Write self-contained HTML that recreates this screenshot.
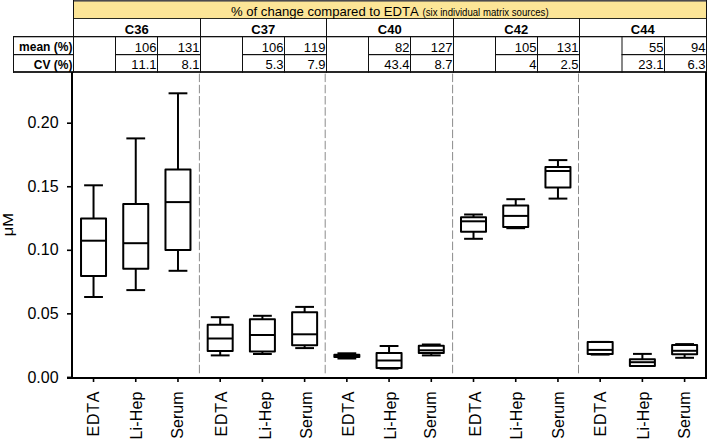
<!DOCTYPE html>
<html><head><meta charset="utf-8"><style>
html,body{margin:0;padding:0;background:#fff;}
body{width:708px;height:440px;overflow:hidden;}
svg{display:block;font-family:"Liberation Sans",sans-serif;fill:#000;font-kerning:none;}
</style></head><body>
<svg width="708" height="440" viewBox="0 0 708 440">
<rect x="73" y="0" width="634" height="18.5" fill="#fce597"/>
<rect x="73" y="0" width="634" height="1" fill="#4a494e"/>
<rect x="73" y="1" width="634" height="0.6" fill="#4a494e"/>
<rect x="73" y="18" width="634" height="1" fill="#2a2a20"/>
<rect x="13" y="36" width="694" height="1.3" fill="#111"/>
<rect x="13" y="71.1" width="694" height="1.8" fill="#111"/>
<rect x="13" y="36" width="1" height="36.8" fill="#111"/>
<rect x="13" y="54" width="60" height="1.2" fill="#111"/>
<rect x="73" y="18" width="1" height="54.8" fill="#111"/>
<rect x="115" y="36" width="1" height="36.8" fill="#111"/>
<rect x="157" y="36" width="1" height="36.8" fill="#111"/>
<rect x="115" y="54" width="85" height="1.2" fill="#111"/>
<rect x="200" y="18" width="1" height="54.8" fill="#111"/>
<rect x="242" y="36" width="1" height="36.8" fill="#111"/>
<rect x="284" y="36" width="1" height="36.8" fill="#111"/>
<rect x="242" y="54" width="84" height="1.2" fill="#111"/>
<rect x="326" y="18" width="1" height="54.8" fill="#111"/>
<rect x="368" y="36" width="1" height="36.8" fill="#111"/>
<rect x="410" y="36" width="1" height="36.8" fill="#111"/>
<rect x="368" y="54" width="85" height="1.2" fill="#111"/>
<rect x="453" y="18" width="1" height="54.8" fill="#111"/>
<rect x="495" y="36" width="1" height="36.8" fill="#111"/>
<rect x="537" y="36" width="1" height="36.8" fill="#111"/>
<rect x="495" y="54" width="84" height="1.2" fill="#111"/>
<rect x="579" y="18" width="1" height="54.8" fill="#111"/>
<rect x="621.5" y="36" width="1" height="36.8" fill="#111"/>
<rect x="664" y="36" width="1" height="36.8" fill="#111"/>
<rect x="621.5" y="54" width="84.5" height="1.2" fill="#111"/>
<rect x="706" y="0" width="1" height="72.8" fill="#111"/>
<rect x="73" y="0" width="1" height="18" fill="#111"/>
<text x="231.0" y="16" font-size="13.1">% of change compared to EDTA</text>
<text x="422.6" y="16" font-size="10" textLength="126" lengthAdjust="spacingAndGlyphs">(six individual matrix sources)</text>
<text x="136.7" y="33.7" font-size="13" text-anchor="middle" font-weight="bold" >C36</text>
<text x="156.5" y="51.5" font-size="13" text-anchor="end" font-weight="normal" >106</text>
<text x="199.5" y="51.5" font-size="13" text-anchor="end" font-weight="normal" >131</text>
<text x="156.5" y="69.3" font-size="13" text-anchor="end" font-weight="normal" >11.1</text>
<text x="199.5" y="69.3" font-size="13" text-anchor="end" font-weight="normal" >8.1</text>
<text x="263.2" y="33.7" font-size="13" text-anchor="middle" font-weight="bold" >C37</text>
<text x="283.5" y="51.5" font-size="13" text-anchor="end" font-weight="normal" >106</text>
<text x="325.5" y="51.5" font-size="13" text-anchor="end" font-weight="normal" >119</text>
<text x="283.5" y="69.3" font-size="13" text-anchor="end" font-weight="normal" >5.3</text>
<text x="325.5" y="69.3" font-size="13" text-anchor="end" font-weight="normal" >7.9</text>
<text x="389.7" y="33.7" font-size="13" text-anchor="middle" font-weight="bold" >C40</text>
<text x="409.5" y="51.5" font-size="13" text-anchor="end" font-weight="normal" >82</text>
<text x="452.5" y="51.5" font-size="13" text-anchor="end" font-weight="normal" >127</text>
<text x="409.5" y="69.3" font-size="13" text-anchor="end" font-weight="normal" >43.4</text>
<text x="452.5" y="69.3" font-size="13" text-anchor="end" font-weight="normal" >8.7</text>
<text x="516.2" y="33.7" font-size="13" text-anchor="middle" font-weight="bold" >C42</text>
<text x="536.5" y="51.5" font-size="13" text-anchor="end" font-weight="normal" >105</text>
<text x="578.5" y="51.5" font-size="13" text-anchor="end" font-weight="normal" >131</text>
<text x="536.5" y="69.3" font-size="13" text-anchor="end" font-weight="normal" >4</text>
<text x="578.5" y="69.3" font-size="13" text-anchor="end" font-weight="normal" >2.5</text>
<text x="642.7" y="33.7" font-size="13" text-anchor="middle" font-weight="bold" >C44</text>
<text x="663.5" y="51.5" font-size="13" text-anchor="end" font-weight="normal" >55</text>
<text x="705.5" y="51.5" font-size="13" text-anchor="end" font-weight="normal" >94</text>
<text x="663.5" y="69.3" font-size="13" text-anchor="end" font-weight="normal" >23.1</text>
<text x="705.5" y="69.3" font-size="13" text-anchor="end" font-weight="normal" >6.3</text>
<text x="72.4" y="51" font-size="12" text-anchor="end" font-weight="bold" >mean (%)</text>
<text x="72.4" y="68.6" font-size="12" text-anchor="end" font-weight="bold" >CV (%)</text>
<line x1="199.4" y1="73.6" x2="199.4" y2="374.5" stroke="#8c8c8c" stroke-width="1" stroke-dasharray="8.5 2.7"/>
<line x1="325.2" y1="73.6" x2="325.2" y2="374.5" stroke="#8c8c8c" stroke-width="1" stroke-dasharray="8.5 2.7"/>
<line x1="452.6" y1="73.6" x2="452.6" y2="374.5" stroke="#8c8c8c" stroke-width="1" stroke-dasharray="8.5 2.7"/>
<line x1="578.5" y1="73.6" x2="578.5" y2="374.5" stroke="#8c8c8c" stroke-width="1" stroke-dasharray="8.5 2.7"/>
<rect x="71" y="72" width="2" height="307" fill="#000"/>
<rect x="67" y="377" width="640" height="2" fill="#000"/>
<rect x="705" y="72" width="2" height="307" fill="#000"/>
<rect x="67" y="376.60" width="5" height="1.6" fill="#000"/>
<text x="58.6" y="382.5" font-size="16" text-anchor="end" font-weight="normal" >0.00</text>
<rect x="67" y="313.05" width="5" height="1.6" fill="#000"/>
<text x="58.6" y="318.95" font-size="16" text-anchor="end" font-weight="normal" >0.05</text>
<rect x="67" y="249.50" width="5" height="1.6" fill="#000"/>
<text x="58.6" y="255.39999999999995" font-size="16" text-anchor="end" font-weight="normal" >0.10</text>
<rect x="67" y="185.95" width="5" height="1.6" fill="#000"/>
<text x="58.6" y="191.84999999999997" font-size="16" text-anchor="end" font-weight="normal" >0.15</text>
<rect x="67" y="122.40" width="5" height="1.6" fill="#000"/>
<text x="58.6" y="128.29999999999995" font-size="16" text-anchor="end" font-weight="normal" >0.20</text>
<rect x="92.73" y="378" width="1.6" height="4" fill="#000"/>
<text transform="translate(98.83,391.5) rotate(-90)" font-size="16" text-anchor="end" textLength="45" lengthAdjust="spacing">EDTA</text>
<rect x="134.95" y="378" width="1.6" height="4" fill="#000"/>
<text transform="translate(141.85,391.5) rotate(-90)" font-size="16" text-anchor="end" textLength="48.1" lengthAdjust="spacing">Li-Hep</text>
<rect x="177.17" y="378" width="1.6" height="4" fill="#000"/>
<text transform="translate(182.97,391.5) rotate(-90)" font-size="16" text-anchor="end">Serum</text>
<rect x="219.39" y="378" width="1.6" height="4" fill="#000"/>
<text transform="translate(227.19,391.5) rotate(-90)" font-size="16" text-anchor="end" textLength="45" lengthAdjust="spacing">EDTA</text>
<rect x="261.61" y="378" width="1.6" height="4" fill="#000"/>
<text transform="translate(270.81,391.5) rotate(-90)" font-size="16" text-anchor="end" textLength="48.1" lengthAdjust="spacing">Li-Hep</text>
<rect x="303.83" y="378" width="1.6" height="4" fill="#000"/>
<text transform="translate(311.93,391.5) rotate(-90)" font-size="16" text-anchor="end">Serum</text>
<rect x="346.05" y="378" width="1.6" height="4" fill="#000"/>
<text transform="translate(354.35,391.5) rotate(-90)" font-size="16" text-anchor="end" textLength="45" lengthAdjust="spacing">EDTA</text>
<rect x="388.27" y="378" width="1.6" height="4" fill="#000"/>
<text transform="translate(396.17,391.5) rotate(-90)" font-size="16" text-anchor="end" textLength="48.1" lengthAdjust="spacing">Li-Hep</text>
<rect x="430.49" y="378" width="1.6" height="4" fill="#000"/>
<text transform="translate(436.49,391.5) rotate(-90)" font-size="16" text-anchor="end">Serum</text>
<rect x="472.71" y="378" width="1.6" height="4" fill="#000"/>
<text transform="translate(480.81,391.5) rotate(-90)" font-size="16" text-anchor="end" textLength="45" lengthAdjust="spacing">EDTA</text>
<rect x="514.93" y="378" width="1.6" height="4" fill="#000"/>
<text transform="translate(521.53,391.5) rotate(-90)" font-size="16" text-anchor="end" textLength="48.1" lengthAdjust="spacing">Li-Hep</text>
<rect x="557.15" y="378" width="1.6" height="4" fill="#000"/>
<text transform="translate(563.75,391.5) rotate(-90)" font-size="16" text-anchor="end">Serum</text>
<rect x="599.37" y="378" width="1.6" height="4" fill="#000"/>
<text transform="translate(605.97,391.5) rotate(-90)" font-size="16" text-anchor="end" textLength="45" lengthAdjust="spacing">EDTA</text>
<rect x="641.59" y="378" width="1.6" height="4" fill="#000"/>
<text transform="translate(648.59,391.5) rotate(-90)" font-size="16" text-anchor="end" textLength="48.1" lengthAdjust="spacing">Li-Hep</text>
<rect x="683.81" y="378" width="1.6" height="4" fill="#000"/>
<text transform="translate(690.41,391.5) rotate(-90)" font-size="16" text-anchor="end">Serum</text>
<text transform="translate(13.0,224.6) rotate(-90)" font-size="15.4" text-anchor="middle" textLength="23.4" lengthAdjust="spacingAndGlyphs">&#956;M</text>
<line x1="93.53" y1="185.30" x2="93.53" y2="218.40" stroke="#000" stroke-width="2.0" fill="none" stroke-linejoin="round"/>
<line x1="93.53" y1="276.00" x2="93.53" y2="297.00" stroke="#000" stroke-width="2.0" fill="none" stroke-linejoin="round"/>
<line x1="84.13" y1="185.30" x2="102.93" y2="185.30" stroke="#000" stroke-width="2.0" fill="none" stroke-linejoin="round"/>
<line x1="84.13" y1="297.00" x2="102.93" y2="297.00" stroke="#000" stroke-width="2.0" fill="none" stroke-linejoin="round"/>
<rect x="81.03" y="218.40" width="25.00" height="57.60" stroke="#000" stroke-width="2.0" fill="none" stroke-linejoin="round"/>
<line x1="81.03" y1="240.70" x2="106.03" y2="240.70" stroke="#000" stroke-width="2.0" fill="none" stroke-linejoin="round"/>
<line x1="135.75" y1="138.40" x2="135.75" y2="204.10" stroke="#000" stroke-width="2.0" fill="none" stroke-linejoin="round"/>
<line x1="135.75" y1="268.70" x2="135.75" y2="290.10" stroke="#000" stroke-width="2.0" fill="none" stroke-linejoin="round"/>
<line x1="126.35" y1="138.40" x2="145.15" y2="138.40" stroke="#000" stroke-width="2.0" fill="none" stroke-linejoin="round"/>
<line x1="126.35" y1="290.10" x2="145.15" y2="290.10" stroke="#000" stroke-width="2.0" fill="none" stroke-linejoin="round"/>
<rect x="123.25" y="204.10" width="25.00" height="64.60" stroke="#000" stroke-width="2.0" fill="none" stroke-linejoin="round"/>
<line x1="123.25" y1="243.20" x2="148.25" y2="243.20" stroke="#000" stroke-width="2.0" fill="none" stroke-linejoin="round"/>
<line x1="177.97" y1="93.30" x2="177.97" y2="169.40" stroke="#000" stroke-width="2.0" fill="none" stroke-linejoin="round"/>
<line x1="177.97" y1="250.10" x2="177.97" y2="270.80" stroke="#000" stroke-width="2.0" fill="none" stroke-linejoin="round"/>
<line x1="168.57" y1="93.30" x2="187.37" y2="93.30" stroke="#000" stroke-width="2.0" fill="none" stroke-linejoin="round"/>
<line x1="168.57" y1="270.80" x2="187.37" y2="270.80" stroke="#000" stroke-width="2.0" fill="none" stroke-linejoin="round"/>
<rect x="165.47" y="169.40" width="25.00" height="80.70" stroke="#000" stroke-width="2.0" fill="none" stroke-linejoin="round"/>
<line x1="165.47" y1="202.10" x2="190.47" y2="202.10" stroke="#000" stroke-width="2.0" fill="none" stroke-linejoin="round"/>
<line x1="220.19" y1="317.20" x2="220.19" y2="324.80" stroke="#000" stroke-width="2.0" fill="none" stroke-linejoin="round"/>
<line x1="220.19" y1="351.10" x2="220.19" y2="355.40" stroke="#000" stroke-width="2.0" fill="none" stroke-linejoin="round"/>
<line x1="210.79" y1="317.20" x2="229.59" y2="317.20" stroke="#000" stroke-width="2.0" fill="none" stroke-linejoin="round"/>
<line x1="210.79" y1="355.40" x2="229.59" y2="355.40" stroke="#000" stroke-width="2.0" fill="none" stroke-linejoin="round"/>
<rect x="207.69" y="324.80" width="25.00" height="26.30" stroke="#000" stroke-width="2.0" fill="none" stroke-linejoin="round"/>
<line x1="207.69" y1="338.50" x2="232.69" y2="338.50" stroke="#000" stroke-width="2.0" fill="none" stroke-linejoin="round"/>
<line x1="262.41" y1="315.80" x2="262.41" y2="319.20" stroke="#000" stroke-width="2.0" fill="none" stroke-linejoin="round"/>
<line x1="262.41" y1="351.60" x2="262.41" y2="354.00" stroke="#000" stroke-width="2.0" fill="none" stroke-linejoin="round"/>
<line x1="253.01" y1="315.80" x2="271.81" y2="315.80" stroke="#000" stroke-width="2.0" fill="none" stroke-linejoin="round"/>
<line x1="253.01" y1="354.00" x2="271.81" y2="354.00" stroke="#000" stroke-width="2.0" fill="none" stroke-linejoin="round"/>
<rect x="249.91" y="319.20" width="25.00" height="32.40" stroke="#000" stroke-width="2.0" fill="none" stroke-linejoin="round"/>
<line x1="249.91" y1="335.00" x2="274.91" y2="335.00" stroke="#000" stroke-width="2.0" fill="none" stroke-linejoin="round"/>
<line x1="304.63" y1="306.90" x2="304.63" y2="312.20" stroke="#000" stroke-width="2.0" fill="none" stroke-linejoin="round"/>
<line x1="304.63" y1="345.20" x2="304.63" y2="348.10" stroke="#000" stroke-width="2.0" fill="none" stroke-linejoin="round"/>
<line x1="295.23" y1="306.90" x2="314.03" y2="306.90" stroke="#000" stroke-width="2.0" fill="none" stroke-linejoin="round"/>
<line x1="295.23" y1="348.10" x2="314.03" y2="348.10" stroke="#000" stroke-width="2.0" fill="none" stroke-linejoin="round"/>
<rect x="292.13" y="312.20" width="25.00" height="33.00" stroke="#000" stroke-width="2.0" fill="none" stroke-linejoin="round"/>
<line x1="292.13" y1="334.30" x2="317.13" y2="334.30" stroke="#000" stroke-width="2.0" fill="none" stroke-linejoin="round"/>
<line x1="346.85" y1="353.30" x2="346.85" y2="354.80" stroke="#000" stroke-width="2.0" fill="none" stroke-linejoin="round"/>
<line x1="346.85" y1="357.00" x2="346.85" y2="358.50" stroke="#000" stroke-width="2.0" fill="none" stroke-linejoin="round"/>
<line x1="337.45" y1="353.30" x2="356.25" y2="353.30" stroke="#000" stroke-width="2.0" fill="none" stroke-linejoin="round"/>
<line x1="337.45" y1="358.50" x2="356.25" y2="358.50" stroke="#000" stroke-width="2.0" fill="none" stroke-linejoin="round"/>
<rect x="334.35" y="354.80" width="25.00" height="2.20" stroke="#000" stroke-width="2.0" fill="none" stroke-linejoin="round"/>
<line x1="334.35" y1="355.80" x2="359.35" y2="355.80" stroke="#000" stroke-width="2.0" fill="none" stroke-linejoin="round"/>
<line x1="389.07" y1="346.00" x2="389.07" y2="352.90" stroke="#000" stroke-width="2.0" fill="none" stroke-linejoin="round"/>
<line x1="389.07" y1="367.90" x2="389.07" y2="368.60" stroke="#000" stroke-width="2.0" fill="none" stroke-linejoin="round"/>
<line x1="379.67" y1="346.00" x2="398.47" y2="346.00" stroke="#000" stroke-width="2.0" fill="none" stroke-linejoin="round"/>
<line x1="379.67" y1="368.60" x2="398.47" y2="368.60" stroke="#000" stroke-width="2.0" fill="none" stroke-linejoin="round"/>
<rect x="376.57" y="352.90" width="25.00" height="15.00" stroke="#000" stroke-width="2.0" fill="none" stroke-linejoin="round"/>
<line x1="376.57" y1="360.50" x2="401.57" y2="360.50" stroke="#000" stroke-width="2.0" fill="none" stroke-linejoin="round"/>
<line x1="431.29" y1="344.50" x2="431.29" y2="345.70" stroke="#000" stroke-width="2.0" fill="none" stroke-linejoin="round"/>
<line x1="431.29" y1="353.10" x2="431.29" y2="355.40" stroke="#000" stroke-width="2.0" fill="none" stroke-linejoin="round"/>
<line x1="421.89" y1="344.50" x2="440.69" y2="344.50" stroke="#000" stroke-width="2.0" fill="none" stroke-linejoin="round"/>
<line x1="421.89" y1="355.40" x2="440.69" y2="355.40" stroke="#000" stroke-width="2.0" fill="none" stroke-linejoin="round"/>
<rect x="418.79" y="345.70" width="25.00" height="7.40" stroke="#000" stroke-width="2.0" fill="none" stroke-linejoin="round"/>
<line x1="418.79" y1="350.30" x2="443.79" y2="350.30" stroke="#000" stroke-width="2.0" fill="none" stroke-linejoin="round"/>
<line x1="473.51" y1="214.50" x2="473.51" y2="217.20" stroke="#000" stroke-width="2.0" fill="none" stroke-linejoin="round"/>
<line x1="473.51" y1="231.80" x2="473.51" y2="238.80" stroke="#000" stroke-width="2.0" fill="none" stroke-linejoin="round"/>
<line x1="464.11" y1="214.50" x2="482.91" y2="214.50" stroke="#000" stroke-width="2.0" fill="none" stroke-linejoin="round"/>
<line x1="464.11" y1="238.80" x2="482.91" y2="238.80" stroke="#000" stroke-width="2.0" fill="none" stroke-linejoin="round"/>
<rect x="461.01" y="217.20" width="25.00" height="14.60" stroke="#000" stroke-width="2.0" fill="none" stroke-linejoin="round"/>
<line x1="461.01" y1="221.30" x2="486.01" y2="221.30" stroke="#000" stroke-width="2.0" fill="none" stroke-linejoin="round"/>
<line x1="515.73" y1="199.20" x2="515.73" y2="205.60" stroke="#000" stroke-width="2.0" fill="none" stroke-linejoin="round"/>
<line x1="515.73" y1="226.90" x2="515.73" y2="228.20" stroke="#000" stroke-width="2.0" fill="none" stroke-linejoin="round"/>
<line x1="506.33" y1="199.20" x2="525.13" y2="199.20" stroke="#000" stroke-width="2.0" fill="none" stroke-linejoin="round"/>
<line x1="506.33" y1="228.20" x2="525.13" y2="228.20" stroke="#000" stroke-width="2.0" fill="none" stroke-linejoin="round"/>
<rect x="503.23" y="205.60" width="25.00" height="21.30" stroke="#000" stroke-width="2.0" fill="none" stroke-linejoin="round"/>
<line x1="503.23" y1="215.90" x2="528.23" y2="215.90" stroke="#000" stroke-width="2.0" fill="none" stroke-linejoin="round"/>
<line x1="557.95" y1="160.10" x2="557.95" y2="167.00" stroke="#000" stroke-width="2.0" fill="none" stroke-linejoin="round"/>
<line x1="557.95" y1="187.40" x2="557.95" y2="198.60" stroke="#000" stroke-width="2.0" fill="none" stroke-linejoin="round"/>
<line x1="548.55" y1="160.10" x2="567.35" y2="160.10" stroke="#000" stroke-width="2.0" fill="none" stroke-linejoin="round"/>
<line x1="548.55" y1="198.60" x2="567.35" y2="198.60" stroke="#000" stroke-width="2.0" fill="none" stroke-linejoin="round"/>
<rect x="545.45" y="167.00" width="25.00" height="20.40" stroke="#000" stroke-width="2.0" fill="none" stroke-linejoin="round"/>
<line x1="545.45" y1="171.00" x2="570.45" y2="171.00" stroke="#000" stroke-width="2.0" fill="none" stroke-linejoin="round"/>
<line x1="600.17" y1="341.90" x2="600.17" y2="341.90" stroke="#000" stroke-width="2.0" fill="none" stroke-linejoin="round"/>
<line x1="600.17" y1="353.90" x2="600.17" y2="354.60" stroke="#000" stroke-width="2.0" fill="none" stroke-linejoin="round"/>
<line x1="590.77" y1="341.90" x2="609.57" y2="341.90" stroke="#000" stroke-width="2.0" fill="none" stroke-linejoin="round"/>
<line x1="590.77" y1="354.60" x2="609.57" y2="354.60" stroke="#000" stroke-width="2.0" fill="none" stroke-linejoin="round"/>
<rect x="587.67" y="341.90" width="25.00" height="12.00" stroke="#000" stroke-width="2.0" fill="none" stroke-linejoin="round"/>
<line x1="587.67" y1="349.90" x2="612.67" y2="349.90" stroke="#000" stroke-width="2.0" fill="none" stroke-linejoin="round"/>
<line x1="642.39" y1="353.90" x2="642.39" y2="359.30" stroke="#000" stroke-width="2.0" fill="none" stroke-linejoin="round"/>
<line x1="642.39" y1="365.90" x2="642.39" y2="366.00" stroke="#000" stroke-width="2.0" fill="none" stroke-linejoin="round"/>
<line x1="632.99" y1="353.90" x2="651.79" y2="353.90" stroke="#000" stroke-width="2.0" fill="none" stroke-linejoin="round"/>
<line x1="632.99" y1="366.00" x2="651.79" y2="366.00" stroke="#000" stroke-width="2.0" fill="none" stroke-linejoin="round"/>
<rect x="629.89" y="359.30" width="25.00" height="6.60" stroke="#000" stroke-width="2.0" fill="none" stroke-linejoin="round"/>
<line x1="629.89" y1="362.20" x2="654.89" y2="362.20" stroke="#000" stroke-width="2.0" fill="none" stroke-linejoin="round"/>
<line x1="684.61" y1="344.10" x2="684.61" y2="345.00" stroke="#000" stroke-width="2.0" fill="none" stroke-linejoin="round"/>
<line x1="684.61" y1="354.30" x2="684.61" y2="357.80" stroke="#000" stroke-width="2.0" fill="none" stroke-linejoin="round"/>
<line x1="675.21" y1="344.10" x2="694.01" y2="344.10" stroke="#000" stroke-width="2.0" fill="none" stroke-linejoin="round"/>
<line x1="675.21" y1="357.80" x2="694.01" y2="357.80" stroke="#000" stroke-width="2.0" fill="none" stroke-linejoin="round"/>
<rect x="672.11" y="345.00" width="25.00" height="9.30" stroke="#000" stroke-width="2.0" fill="none" stroke-linejoin="round"/>
<line x1="672.11" y1="350.80" x2="697.11" y2="350.80" stroke="#000" stroke-width="2.0" fill="none" stroke-linejoin="round"/>
</svg>
</body></html>
